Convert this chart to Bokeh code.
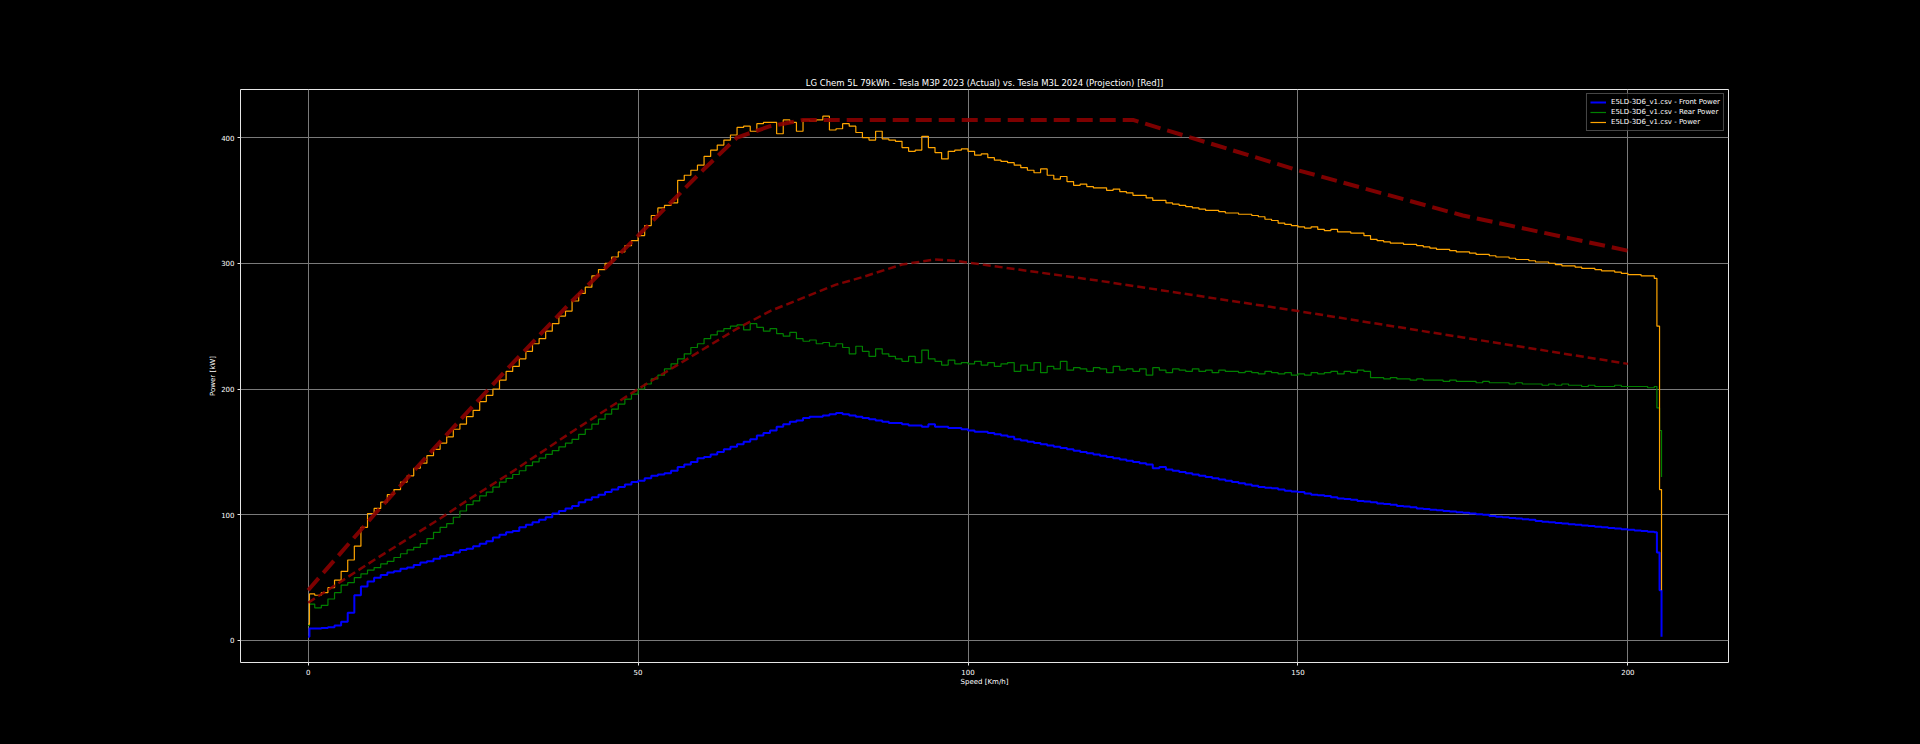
from bokeh.plotting import figure
from bokeh.embed import file_html
from bokeh.resources import INLINE
from bokeh.models import Range1d, FixedTicker, Legend, LegendItem

TITLE = "LG Chem 5L 79kWh - Tesla M3P 2023 (Actual) vs. Tesla M3L 2024 (Projection) [Red]]"
X_LABEL = "Speed [Km/h]"
Y_LABEL = "Power [kW]"
X_TICKS = [0, 50, 100, 150, 200]
Y_TICKS = [0, 100, 200, 300, 400]
LABEL_FRONT = "E5LD-3D6_v1.csv - Front Power"
LABEL_REAR = "E5LD-3D6_v1.csv - Rear Power"
LABEL_TOTAL = "E5LD-3D6_v1.csv - Power"

# speed samples [km/h]
SPEED = [0.0, 0.2] + list(range(1, 205)) + [204.4, 204.8, 205.1]

POWER_TOTAL = [13, 37,
    36, 38, 42, 48, 55, 64, 75, 90, 101, 105,
    110, 116, 120, 126, 131, 137, 141, 147, 152, 157,
    162, 168, 172, 178, 183, 190, 195, 200, 207, 214,
    218, 224, 230, 236, 240, 246, 252, 258, 262, 270,
    276, 281, 290, 295, 300, 305, 309, 314, 318, 322,
    330, 338, 344, 346, 348, 366, 370, 374, 378, 385,
    390, 394, 398, 402, 408, 409, 405, 411, 412, 412,
    403, 414, 412, 405, 414, 413, 414, 417, 406, 407,
    411, 409, 404, 400, 398, 405, 399, 398, 397, 392,
    389, 390, 401, 392, 388, 383, 389, 390, 391, 389,
    386, 387, 384, 382, 381, 380, 378, 376, 374, 372,
    375, 370, 367, 369, 365, 362, 363, 361, 360, 360,
    358, 359, 357, 356, 354, 354, 352, 350, 350, 348,
    347, 346, 345, 344, 343, 342, 342, 341, 340, 340,
    339, 339, 338, 337, 335, 334, 332, 331, 330, 329,
    328, 329, 327, 326, 327, 325, 325, 324, 324, 322,
    319, 318, 317, 316, 316, 315, 315, 314, 313, 312,
    311, 311, 310, 309, 309, 308, 307, 307, 306, 305,
    305, 304, 303, 303, 302, 301, 301, 300, 299, 298,
    298, 297, 296, 296, 295, 294, 294, 293, 292, 291,
    291, 290, 290, 288,
    250, 120, 40]

POWER_REAR = [12, 29,
    26, 28, 33, 38, 44, 46, 50, 53, 56, 58,
    61, 63, 66, 69, 72, 74, 77, 81, 86, 90,
    93, 98, 103, 108, 111, 115, 118, 122, 126, 129,
    132, 135, 139, 142, 145, 148, 151, 154, 157, 160,
    164, 168, 172, 176, 180, 184, 188, 192, 196, 200,
    204, 208, 211, 216, 220, 224, 228, 233, 236, 240,
    243, 246, 248, 250, 251, 247, 252, 249, 246, 248,
    244, 242, 245, 240, 238, 239, 236, 237, 234, 236,
    233, 228, 234, 230, 226, 232, 228, 226, 224, 222,
    226, 221, 231, 224, 222, 219, 223, 220, 221, 220,
    222, 219, 221, 218, 220, 221, 214, 219, 215, 221,
    213, 218, 216, 222, 215, 217, 216, 214, 217, 216,
    213, 218, 215, 216, 214, 216, 211, 217, 215, 213,
    216, 215, 214, 216, 214, 215, 213, 215, 214, 214,
    213, 214, 213, 212, 214, 213, 212, 213, 211, 212,
    211, 213, 212, 213, 214, 212, 214, 213, 215, 214,
    209, 209, 208, 209, 208, 208, 207, 208, 207, 207,
    207, 206, 207, 206, 206, 206, 205, 206, 205, 205,
    205, 204, 205, 204, 204, 204, 203, 204, 203, 204,
    203, 203, 202, 203, 202, 202, 202, 203, 202, 202,
    202, 202, 201, 202,
    185, 167, 130]

POWER_FRONT = [3, 9.5,
    9.5, 10, 10.5, 12, 15, 22, 36, 43, 47, 50,
    52, 54, 55, 57, 58, 60, 62, 63, 65, 67,
    68, 70, 72, 73, 75, 77, 79, 82, 84, 86,
    87, 90, 92, 94, 96, 98, 101, 103, 105, 107,
    110, 112, 114, 116, 118, 120, 122, 124, 126, 127,
    129, 131, 132, 133, 135, 138, 140, 142, 145, 146,
    148, 150, 152, 154, 156, 158, 160, 163, 165, 167,
    170, 172, 174, 175, 177, 178, 178, 179, 180, 181,
    180, 179, 178, 177, 176, 175, 174, 173, 173, 172,
    171, 171, 170, 172, 170, 170, 169, 169, 168, 167,
    166, 166, 165, 164, 163, 162, 160, 159, 158, 157,
    156, 155, 154, 153, 152, 151, 150, 149, 148, 147,
    146, 145, 144, 143, 142, 141, 140, 137, 138, 136,
    135, 134, 133, 132, 131, 130, 129, 128, 127, 126,
    125, 124, 123, 122, 121.5, 121, 120, 119, 118.5, 118,
    117, 116, 115.5, 115, 114, 113, 112.5, 112, 111, 110.5,
    110, 109, 108.5, 108, 107, 106.5, 106, 105, 104.5, 104,
    103.5, 103, 102.5, 102, 101.5, 101, 100.5, 100, 99, 98.5,
    98, 97.5, 97, 96.5, 96, 95, 94.5, 94, 93.5, 93,
    92.5, 92, 91.5, 91, 90.5, 90, 89.5, 89, 88.5, 88,
    87.5, 87, 86.5, 86,
    70, 40, 3]

# projection (red dashed)
PROJ_HI_SPEED = [0, 10, 20, 30, 40, 50, 60, 65, 70, 75, 125, 140, 150, 175, 200]
PROJ_HI_POWER = [40, 100, 158, 215, 270, 322, 375, 400, 409, 414, 414, 390, 374, 338, 310]
PROJ_LO_SPEED = [0, 10, 20, 24, 30, 40, 50, 60, 65, 70, 80, 84, 90, 95, 98, 120, 150, 175, 200]
PROJ_LO_POWER = [30, 64, 97, 111, 131, 166, 200, 232, 248, 262, 283, 289, 299, 303, 302, 286, 262, 241, 220]

assert len(SPEED) == len(POWER_TOTAL) == len(POWER_REAR) == len(POWER_FRONT)

FONT = "DejaVu Sans"

p = figure(width=1904, height=728, output_backend="svg", toolbar_location=None,
           x_range=Range1d(-10.25, 215.25), y_range=Range1d(-17.5, 438.2),
           min_border_left=240, min_border_right=176, min_border_top=89, min_border_bottom=66)

p.background_fill_color = "black"
p.border_fill_color = "black"
p.outline_line_color = "#e6e6e6"
p.outline_line_width = 1

p.title.text = TITLE
p.title.align = "center"
p.title.text_color = "white"
p.title.text_font = FONT
p.title.text_font_size = "8.5px"
p.title.text_font_style = "normal"
p.title.offset = 0
p.title.standoff = 3

for ax in (p.xaxis[0], p.yaxis[0]):
    ax.axis_line_color = None
    ax.major_tick_line_color = "#e6e6e6"
    ax.major_tick_out = 3
    ax.major_tick_in = 0
    ax.minor_tick_line_color = None
    ax.major_label_text_color = "white"
    ax.major_label_text_font = FONT
    ax.major_label_text_font_size = "7px"
    ax.axis_label_text_color = "white"
    ax.axis_label_text_font = FONT
    ax.axis_label_text_font_size = "7px"
    ax.axis_label_text_font_style = "normal"
    ax.major_label_standoff = 3

p.xaxis.axis_label_standoff = 0
p.yaxis.axis_label_standoff = 1
p.xaxis.ticker = FixedTicker(ticks=X_TICKS)
p.yaxis.ticker = FixedTicker(ticks=Y_TICKS)
p.xaxis.axis_label = X_LABEL
p.yaxis.axis_label = Y_LABEL

p.grid.grid_line_color = "#7a7a7a"
p.grid.grid_line_width = 1

r_front = p.step(SPEED, POWER_FRONT, mode="after", line_color="#0000ff", line_width=2)
r_rear = p.step(SPEED, POWER_REAR, mode="after", line_color="#008000", line_width=1.2)
r_total = p.step(SPEED, POWER_TOTAL, mode="after", line_color="#ffa500", line_width=1.2)

p.line(PROJ_HI_SPEED, PROJ_HI_POWER, line_color="#8b0000", line_alpha=0.9,
       line_width=4, line_dash="16 7")
p.line(PROJ_LO_SPEED, PROJ_LO_POWER, line_color="#8b0000", line_alpha=0.9,
       line_width=2.5, line_dash="8 4")

legend = Legend(items=[LegendItem(label=LABEL_FRONT, renderers=[r_front]),
                       LegendItem(label=LABEL_REAR, renderers=[r_rear]),
                       LegendItem(label=LABEL_TOTAL, renderers=[r_total])],
                location="top_right")
legend.background_fill_color = "black"
legend.background_fill_alpha = 0.8
legend.border_line_color = "#8c8c8c"
legend.label_text_color = "white"
legend.label_text_font = FONT
legend.label_text_font_size = "7px"
legend.glyph_width = 16
legend.glyph_height = 10
legend.label_height = 10
legend.label_standoff = 5
legend.spacing = 0
legend.padding = 3
legend.margin = 4
p.add_layout(legend)

html = file_html(p, INLINE)
html = html.replace("</head>", "<style>html, body { background: #000 !important; }</style></head>", 1)
open("out.html", "w").write(html)
